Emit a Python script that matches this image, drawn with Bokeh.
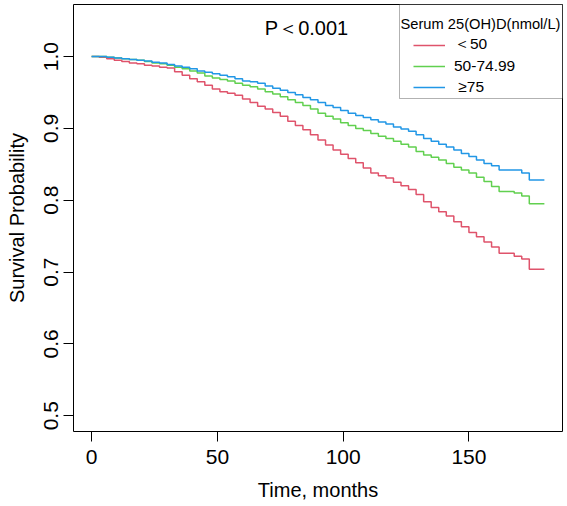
from bokeh.plotting import figure
from bokeh.models import (Range1d, FixedTicker, Legend, LegendItem, Label,
                          BoxAnnotation)
from bokeh.embed import file_html
from bokeh.resources import INLINE

# Kaplan-Meier survival estimates by serum 25(OH)D group
months = [0, 3, 6, 9, 12, 15, 18, 21, 24, 27, 30, 33, 36, 39, 42, 45, 48, 51,
          54, 57, 60, 63, 66, 69, 72, 75, 78, 81, 84, 87, 90, 93, 96, 99, 102,
          105, 108, 111, 114, 117, 120, 123, 126, 129, 132, 135, 138, 141, 144,
          147, 150, 153, 156, 159, 162, 165, 168, 171, 174, 177, 180]

surv_lt50 = [1.000, 0.999, 0.997, 0.995, 0.993, 0.991, 0.990, 0.988, 0.987,
             0.985, 0.984, 0.979, 0.974, 0.969, 0.965, 0.960, 0.955, 0.951,
             0.949, 0.946, 0.941, 0.936, 0.931, 0.927, 0.922, 0.917, 0.910,
             0.904, 0.898, 0.891, 0.884, 0.877, 0.870, 0.864, 0.858, 0.852,
             0.845, 0.838, 0.834, 0.831, 0.825, 0.820, 0.815, 0.808, 0.798,
             0.790, 0.784, 0.778, 0.770, 0.763, 0.755, 0.749, 0.742, 0.735,
             0.726, 0.726, 0.722, 0.718, 0.704, 0.704, 0.704]

surv_50_75 = [1.000, 1.000, 0.999, 0.998, 0.997, 0.996, 0.995, 0.993, 0.991,
              0.990, 0.988, 0.985, 0.983, 0.980, 0.977, 0.973, 0.970, 0.968,
              0.966, 0.963, 0.960, 0.958, 0.955, 0.951, 0.948, 0.944, 0.940,
              0.936, 0.932, 0.927, 0.921, 0.917, 0.913, 0.908, 0.904, 0.900,
              0.897, 0.893, 0.889, 0.886, 0.882, 0.878, 0.874, 0.868, 0.863,
              0.860, 0.856, 0.851, 0.846, 0.842, 0.838, 0.832, 0.826, 0.819,
              0.812, 0.812, 0.810, 0.806, 0.795, 0.795, 0.795]

surv_ge75 = [1.000, 1.000, 0.999, 0.998, 0.997, 0.996, 0.995, 0.994, 0.992,
             0.991, 0.989, 0.987, 0.985, 0.983, 0.980, 0.978, 0.976, 0.974,
             0.972, 0.969, 0.966, 0.965, 0.963, 0.959, 0.956, 0.953, 0.950,
             0.947, 0.943, 0.940, 0.936, 0.932, 0.929, 0.925, 0.921, 0.918,
             0.915, 0.912, 0.909, 0.906, 0.902, 0.899, 0.896, 0.891, 0.886,
             0.882, 0.878, 0.874, 0.870, 0.865, 0.861, 0.856, 0.851, 0.848,
             0.842, 0.842, 0.842, 0.838, 0.828, 0.828, 0.828]

group_labels = ["＜50", "50-74.99", " ≥75"]
group_colors = ["#DF536B", "#61D04F", "#2297E6"]
legend_title = "Serum 25(OH)D(nmol/L)"
p_value_text = "P＜0.001"

x_ticks = [0, 50, 100, 150]
y_ticks = [0.5, 0.6, 0.7, 0.8, 0.9, 1.0]
y_tick_labels = ["0.5", "0.6", "0.7", "0.8", "0.9", "1.0"]

FONT = "Liberation Sans"

p = figure(width=567, height=506,
           x_range=Range1d(-7.2, 187.2), y_range=Range1d(0.478, 1.0725),
           output_backend="svg", toolbar_location=None,
           min_border_left=73, min_border_right=5,
           min_border_top=4, min_border_bottom=75,
           x_axis_label="Time, months", y_axis_label="Survival Probability")

p.grid.visible = False
p.outline_line_color = "black"
p.outline_line_width = 1
p.background_fill_color = "white"
p.border_fill_color = "white"

for ax in (p.xaxis[0], p.yaxis[0]):
    ax.axis_line_color = None
    ax.major_tick_line_color = "black"
    ax.major_tick_in = 0
    ax.major_tick_out = 10
    ax.minor_tick_line_color = None
    ax.major_label_text_font = FONT
    ax.major_label_text_font_size = "21px"
    ax.major_label_text_color = "black"
    ax.axis_label_text_font = FONT
    ax.axis_label_text_font_size = "20px"
    ax.axis_label_text_font_style = "normal"
    ax.axis_label_text_color = "black"

p.xaxis.ticker = FixedTicker(ticks=x_ticks)
p.xaxis.major_label_standoff = 8
p.xaxis.axis_label_standoff = 12

p.yaxis.ticker = FixedTicker(ticks=y_ticks)
p.yaxis.major_label_overrides = dict(zip(y_ticks, y_tick_labels))
p.yaxis.major_label_orientation = "vertical"
p.yaxis.major_label_standoff = 5
p.yaxis.axis_label_standoff = 14

renderers = []
for vals, col in zip([surv_lt50, surv_50_75, surv_ge75], group_colors):
    r = p.step(months, vals, mode="after", line_color=col, line_width=1.5)
    renderers.append(r)

# legend frame and heading
box = BoxAnnotation(left=326, right=489, bottom=333, top=427,
                    left_units="screen", right_units="screen",
                    bottom_units="screen", top_units="screen",
                    fill_color="white", fill_alpha=1.0,
                    line_color="black", line_width=1)
p.add_layout(box)

p.add_layout(Label(x=327, y=408, x_units="screen", y_units="screen",
                   text=legend_title, text_baseline="middle",
                   text_font=FONT, text_font_size="14.7px",
                   text_color="black"))

legend = Legend(items=[LegendItem(label=lab, renderers=[r])
                       for lab, r in zip(group_labels, renderers)],
                location=(340, 334), orientation="vertical",
                padding=0, margin=0, spacing=1,
                label_height=20, glyph_height=20, glyph_width=32,
                label_standoff=9,
                label_text_font=FONT, label_text_font_size="15.5px",
                label_text_color="black",
                background_fill_alpha=0, border_line_color=None)
p.add_layout(legend)

p.add_layout(Label(x=233, y=404, x_units="screen", y_units="screen",
                   text=p_value_text, text_align="center",
                   text_baseline="middle", text_font=FONT,
                   text_font_size="20px", text_color="black"))

open("out.html", "w").write(file_html(p, INLINE))
